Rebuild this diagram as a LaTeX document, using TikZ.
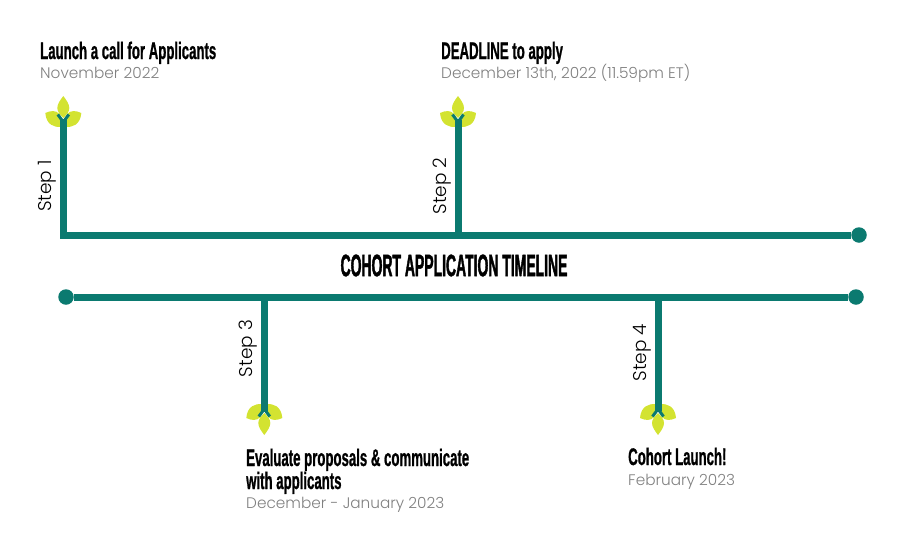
\documentclass[tikz,border=0pt]{standalone}
\usepackage{fontspec}
\setmainfont{Poppins Light}
\newfontfamily\headfont[FakeStretch=0.55,FakeBold=0.8]{Liberation Sans Bold}
\newfontfamily\titlefont[FakeStretch=0.45,FakeBold=1.2]{Liberation Sans Bold}
\definecolor{teal}{HTML}{0B7A70}
\definecolor{leaf}{HTML}{D3E331}
\definecolor{sub}{HTML}{808080}
\tikzset{
  x=1pt,y=-1pt,
  bar/.style={draw=teal,line width=7pt},
  endpt/.style={circle,fill=teal,minimum size=15.5pt,inner sep=0pt},
  heading/.style={anchor=base west,inner sep=0pt,font=\headfont\fontsize{24}{23}\selectfont,align=left,text=black},
  subhead/.style={anchor=base west,inner sep=0pt,font=\fontsize{15.3}{18}\selectfont,text=sub},
  steplabel/.style={rotate=90,inner sep=0pt,font=\fontsize{18.5}{20}\selectfont,text=black},
  title/.style={inner sep=0pt,font=\titlefont\fontsize{31}{32}\selectfont,text=black},
  sprout/.pic={
    \fill[leaf] (0,-31) .. controls (-3,-27) and (-6,-23) .. (-6,-19) .. controls (-6,-15) and (-3,-12) .. (0,-9) .. controls (3,-12) and (6,-15) .. (6,-19) .. controls (6,-23) and (3,-27) .. (0,-31) -- cycle;
    \fill[leaf] (-18,-14) .. controls (-13,-16.5) and (-7,-17) .. (-4,-13) .. controls (-1.5,-9) and (-1.5,-4) .. (-2,0) .. controls (-9,0.5) and (-17,-2) .. (-18,-14) -- cycle;
    \fill[leaf] (18,-14) .. controls (13,-16.5) and (7,-17) .. (4,-13) .. controls (1.5,-9) and (1.5,-4) .. (2,0) .. controls (9,0.5) and (17,-2) .. (18,-14) -- cycle;
    \draw[teal,line width=3pt] (-5.5,-12.5) -- (0,-5) -- (5.5,-12.5);
  }
}
\begin{document}
\begin{tikzpicture}
\useasboundingbox (0,0) rectangle (920,552);
\coordinate (corner) at (63.3,235);
\coordinate (j2) at (458,235);
\coordinate (tip1) at (63.3,120);
\coordinate (tip2) at (458,120);
\node[endpt] (endTR) at (859,235) {};
\node[endpt] (endBL) at (66,297) {};
\node[endpt] (endBR) at (856,297) {};
\coordinate (j3) at (264.3,297);
\coordinate (j4) at (658,297);
\coordinate (tip3) at (264.3,411);
\coordinate (tip4) at (658,411);
% sprouts
\pic at (63.3,127) {sprout};
\pic at (458,127) {sprout};
\pic[yscale=-1] at (264.3,404) {sprout};
\pic[yscale=-1] at (658,404) {sprout};
% bars
\draw[bar] (tip1) -- (corner) -- (endTR);
\draw[bar] (tip2) -- (j2);
\draw[bar] (endBL) -- (endBR);
\draw[bar] (j3) -- (tip3);
\draw[bar] (j4) -- (tip4);
% labels
\node[steplabel] (s1) at (47,186) {Step 1};
\node[steplabel] (s2) at (442,186) {Step 2};
\node[steplabel] (s3) at (248,348.5) {Step 3};
\node[steplabel] (s4) at (642,352.5) {Step 4};
\node[title] (title) at (454,265.5) {COHORT APPLICATION TIMELINE};
\node[heading] (h1) at (40,59) {Launch a call for Applicants};
\node[subhead] (d1) at (40,78) {November 2022};
\node[heading] (h2) at (441,59) {DEADLINE to apply};
\node[subhead] (d2) at (441,78) {December 13th, 2022 (11.59pm ET)};
\node[heading] (h3) at (246,489) {Evaluate proposals \& communicate\\with applicants};
\node[subhead] (d3) at (246,508) {December - January 2023};
\node[heading] (h4) at (628,465) {Cohort Launch!};
\node[subhead] (d4) at (628,485) {February 2023};
\end{tikzpicture}
\end{document}
